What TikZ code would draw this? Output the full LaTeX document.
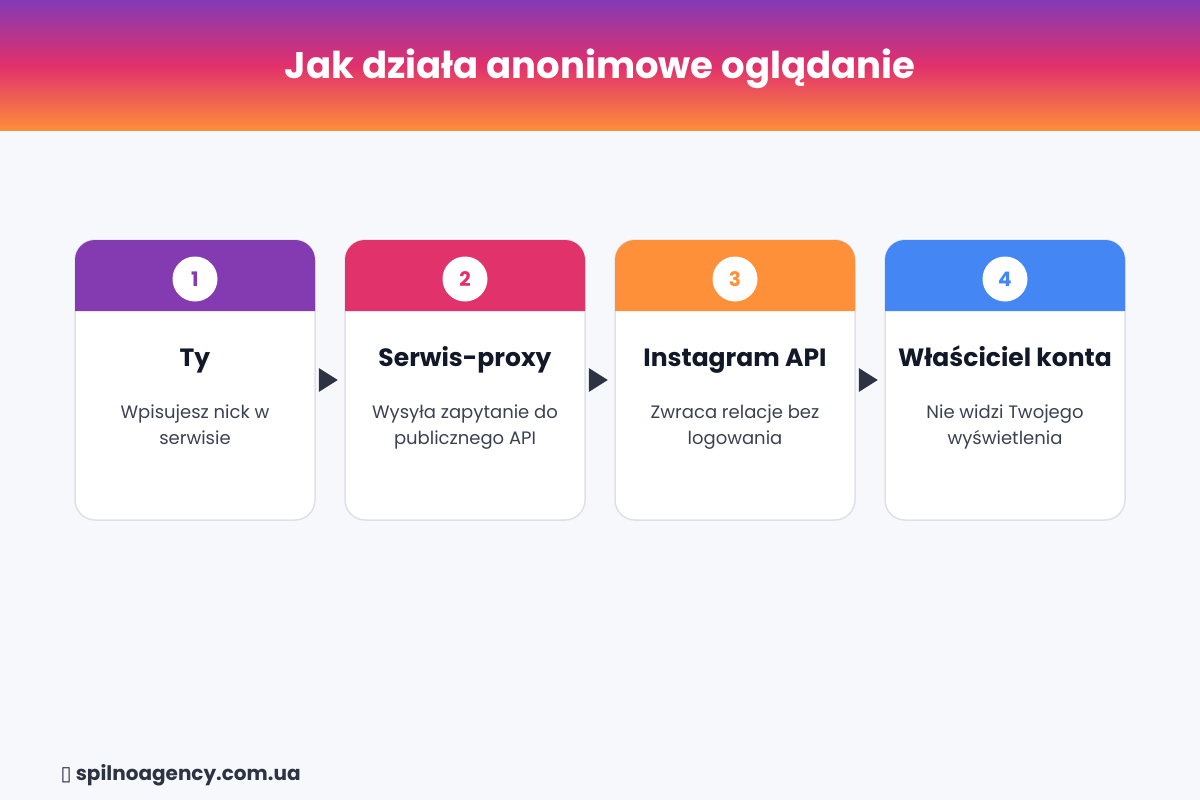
\documentclass[tikz,border=0pt]{standalone}
\usepackage{fontspec}
\setmainfont{Poppins}
\newfontfamily\symfont{DejaVu Sans}
\usetikzlibrary{calc}
\definecolor{bg}{HTML}{F7F8FC}
\definecolor{igpurple}{HTML}{833AB4}
\definecolor{igpink}{HTML}{E1306C}
\definecolor{igorange}{HTML}{FD8D3A}
\definecolor{cpurple}{HTML}{843BB2}
\definecolor{cpink}{HTML}{E1326B}
\definecolor{corange}{HTML}{FE903A}
\definecolor{cblue}{HTML}{4386F4}
\definecolor{navy}{HTML}{111827}
\definecolor{descgray}{HTML}{3A4150}
\definecolor{cardborder}{HTML}{DDE1E8}
\definecolor{arrowc}{HTML}{2D3343}
\definecolor{footc}{HTML}{2D3343}
\tikzset{
  card/.style={draw=cardborder, line width=1.5pt, fill=white, rounded corners=20pt,
    minimum width=240pt, minimum height=280pt, inner sep=0pt},
  numdisc/.style={circle, fill=white, minimum size=45pt, inner sep=0pt,
    font=\bfseries\fontsize{20}{22}\selectfont},
  cardtitle/.style={anchor=base, font=\bfseries\fontsize{25}{28}\selectfont, text=navy},
  carddesc/.style={anchor=base, font=\fontsize{18}{22}\selectfont, text=descgray},
}
\begin{document}
\begin{tikzpicture}[x=1pt,y=-1pt]
\useasboundingbox (0,0) rectangle (1200,800);
\fill[bg] (0,0) rectangle (1200,800);
\shade[top color=igpurple, bottom color=igorange, middle color=igpink] (0,0) rectangle (1200,130);
\node[anchor=base, font=\bfseries\fontsize{37}{40}\selectfont, text=white] (title) at (600,79) {Jak działa anonimowe oglądanie};
\foreach \n/\cx/\col/\ti/\da/\db in {
  1/195/cpurple/Ty/Wpisujesz nick w/serwisie,
  2/465/cpink/Serwis-proxy/Wysyła zapytanie do/publicznego API,
  3/735/corange/Instagram API/Zwraca relacje bez/logowania,
  4/1005/cblue/Właściciel konta/Nie widzi Twojego/wyświetlenia}{
  \node[card] (card\n) at (\cx,380) {};
  \fill[\col] (\cx-120,311) [rounded corners=20pt]-- (\cx-120,240) -- (\cx+120,240) [sharp corners]-- (\cx+120,311) -- cycle;
  \node[numdisc, text=\col] (num\n) at (\cx,279) {\n};
  \node[cardtitle] (title\n) at (\cx,366) {\ti};
  \node[carddesc] (desc\n) at (\cx,418) {\da};
  \node[carddesc] (descb\n) at (\cx,444) {\db};
}
\foreach \a/\b in {1/2,2/3,3/4}{
  \fill[arrowc] ($(card\a.east)+(3,12)$) -- ++(19,-12) -- ++(-19,-12) -- cycle;
}
\node[anchor=base west, font=\bfseries\fontsize{20}{22}\selectfont, text=footc] (footer) at (57,780) {{\symfont\mdseries ▯} spilnoagency.com.ua};
\end{tikzpicture}
\end{document}
